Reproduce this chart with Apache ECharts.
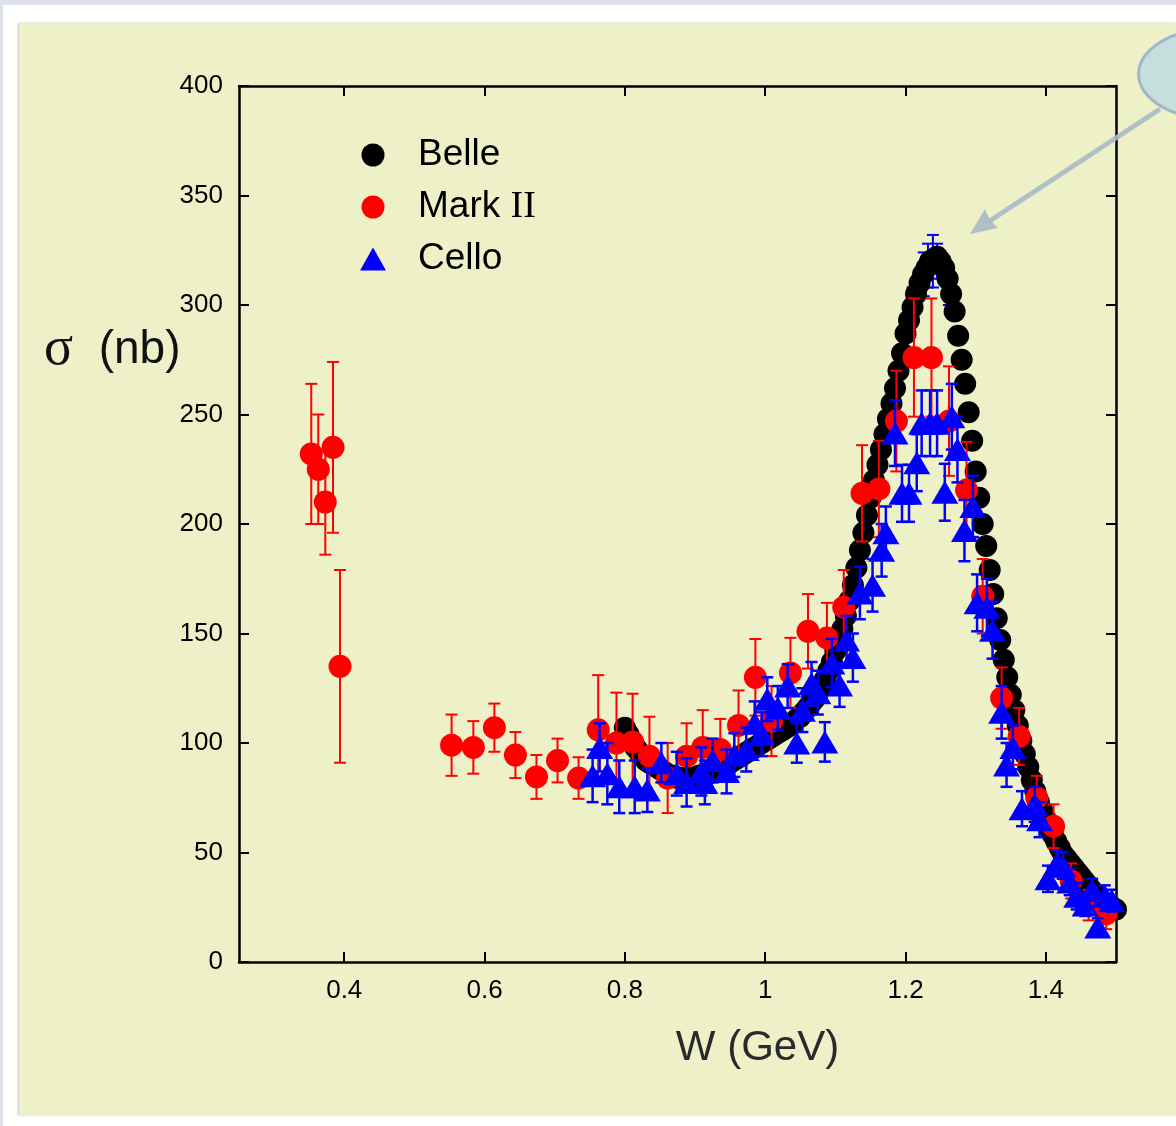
<!DOCTYPE html>
<html>
<head>
<meta charset="utf-8">
<script src="https://cdn.jsdelivr.net/npm/echarts@6/dist/echarts.min.js"></script>
<style>
  html, body { margin: 0; padding: 0; width: 1176px; height: 1126px; overflow: hidden; background: #ffffff; }
  #topstrip { position: absolute; left: 0; top: 0; width: 1176px; height: 5px; background: #dde2ea; }
  #leftstrip { position: absolute; left: 0; top: 0; width: 3px; height: 1126px; background: #dde2ea; }
  #panel { position: absolute; left: 19px; top: 23px; width: 1157px; height: 1092px; background: #eef1c8;
           box-shadow: -1px 0 2px rgba(120,120,100,0.45); }
  #bubble { position: absolute; left: 1137px; top: 27px; width: 150px; height: 88px; border: 3px solid #9fb6cd;
            border-radius: 50%; background: #c6dfdc; }
  #chart { position: absolute; left: 0; top: 0; width: 1176px; height: 1126px; }
</style>
</head>
<body>
<div id="topstrip"></div>
<div id="leftstrip"></div>
<div id="panel"></div>
<div id="bubble"></div>
<div id="chart"></div>
<script>
// ---------------- data ----------------
// Belle: W (GeV) and sigma (nb), 5 MeV bins
const belleW = [
  0.800,0.805,0.810,0.815,0.820,0.825,0.830,0.835,0.840,0.845,
  0.850,0.855,0.860,0.865,0.870,0.875,0.880,0.885,0.890,0.895,
  0.900,0.905,0.910,0.915,0.920,0.925,0.930,0.935,0.940,0.945,
  0.950,0.955,0.960,0.965,0.970,0.975,0.980,0.985,0.990,0.995,
  1.000,1.005,1.010,1.015,1.020,1.025,1.030,1.035,1.040,1.045,
  1.050,1.055,1.060,1.065,1.070,1.075,1.080,1.085,1.090,1.095,
  1.100,1.105,1.110,1.115,1.120,1.125,1.130,1.135,1.140,1.145,
  1.150,1.155,1.160,1.165,1.170,1.175,1.180,1.185,1.190,1.195,
  1.200,1.205,1.210,1.215,1.220,1.225,1.230,1.235,1.240,1.245,
  1.250,1.255,1.260,1.265,1.270,1.275,1.280,1.285,1.290,1.295,
  1.300,1.305,1.310,1.315,1.320,1.325,1.330,1.335,1.340,1.345,
  1.350,1.355,1.360,1.365,1.370,1.375,1.380,1.385,1.390,1.395,
  1.400,1.405,1.410,1.415,1.420,1.425,1.430,1.435,1.440,1.445,
  1.450,1.455,1.460,1.465,1.470,1.475,1.480,1.485,1.490,1.495,
  1.500
];
const belleSigma = [
  107,104,101,98,96,94,92,91,90,89,
  88,87,86,85,85,84,84,84,84,84,
  84,85,85,86,86,87,88,88,89,90,
  91,92,93,94,95,96,97,98,99,100,
  101,102,103,104,105,106,107,108,109,111,
  112,114,116,118,120,123,126,129,133,137,
  142,147,152,158,165,172,180,188,196,204,
  212,220,227,234,241,248,255,262,270,278,
  287,293,299,305,310,314,317,320,321,322,
  320,317,312,305,297,286,275,264,251,238,
  224,212,200,190,179,168,157,147,138,130,
  122,115,108,101,95,89,83,78,73,69,
  65,61,58,55,52,49,47,45,43,41,
  39,37,35,33,31,30,28,27,26,25,
  24
];

// Mark II: W, sigma, symmetric error
const markW = [0.353,0.363,0.373,0.384,0.394,
  0.553,0.584,0.614,0.644,0.674,0.704,0.734,0.762,0.788,0.811,0.835,0.861,0.888,0.911,0.936,
  0.962,0.986,1.009,1.036,1.061,1.088,1.112,1.138,1.162,1.187,1.212,1.237,1.262,1.287,
  1.310,1.337,1.362,1.387,1.411,1.436,1.461,1.486];
const markSigma = [232,225,210,235,135,
  99,98,107,94.5,84.5,92,84,106,100,100.5,94,84,94,98,97,
  108,130,110,132,151,148,162,214,216,247,276,276,247,215.5,
  167,120.5,103,75,62,37,26,22];
const markErr = [32,25,24,39,44,
  14,12,11,10.5,10,10,9.5,25,23,22,18,16,15,17,14,
  16,17.5,16,16,17,16,17,22,22,23,27,27,25,22,
  17,14,13,10,10,8,7,7];

// Cello: W, sigma, symmetric error
const celloW = [0.754,0.764,0.775,0.792,0.814,0.832,0.852,0.874,0.888,0.909,
  0.914,0.925,0.945,0.956,0.973,0.985,0.995,1.003,1.018,1.032,
  1.045,1.053,1.066,1.075,1.085,1.095,1.106,1.116,1.125,1.135,
  1.153,1.166,1.172,1.185,1.195,1.205,1.216,1.223,1.235,1.245,
  1.256,1.266,1.274,1.284,1.296,1.302,1.316,1.324,1.337,1.344,
  1.353,1.366,1.384,1.391,1.403,1.416,1.424,1.434,1.444,1.456,
  1.466,1.474,1.484,1.494];
const celloSigma = [85,98,86,80,80,78.5,91,86,82,87,
  82,92,87,94.5,97,109,104,120,116,126,
  100,115,127,123,100.5,136.5,126.5,147,139,168.5,
  172,188,196,241.5,214,214,228,246,246,246,
  214.5,249,234,197,208,164,162,151.5,114,90,
  98,70,72,65,38,45,44,36.5,30,26,
  33,16,30,28];
const celloErr = [12,11,14,12,12,10,9,10,11,11,
  10,10,10,10,10,10,10,10,10,10,
  9,10,10,10,9,11,10,11,11,12,
  12,12,12,15,13,13,13,15,15,15,
  13,15,15,14,14,13,13,13,12,10,
  10,8,8,8,6,6,6,6,6,5,
  5,4,5,5];
// Cello points near the peak hidden under the Belle markers (only caps visible)
const celloHidW = [1.210,1.226,1.232,1.239,1.245,1.262];
const celloHidSigma = [300,314,318,320,320,308];
const celloHidErr = [8,10,10,12,8,8];

// axis ticks
const xTicks = [0.4,0.6,0.8,1.0,1.2,1.4];
const yTicks = [0,50,100,150,200,250,300,350,400];

// ---------------- build ----------------
const pairs = (xs, ys) => xs.map((x, i) => [x, ys[i]]);
const errData = (xs, ys, es) => xs.map((x, i) => [x, ys[i] - es[i], ys[i] + es[i]]);

function errRender(capHalf, color, lw) {
  return function (params, api) {
    const x = api.value(0), lo = api.value(1), hi = api.value(2);
    const p1 = api.coord([x, lo]);
    const p2 = api.coord([x, hi]);
    const st = { stroke: color, lineWidth: lw };
    return {
      type: 'group',
      children: [
        { type: 'line', shape: { x1: p1[0], y1: p1[1], x2: p2[0], y2: p2[1] }, style: st },
        { type: 'line', shape: { x1: p1[0] - capHalf, y1: p1[1], x2: p1[0] + capHalf, y2: p1[1] }, style: st },
        { type: 'line', shape: { x1: p2[0] - capHalf, y1: p2[1], x2: p2[0] + capHalf, y2: p2[1] }, style: st }
      ]
    };
  };
}

const FONT = 'Liberation Sans, Arial, Helvetica, sans-serif';
const axisLineStyle = { color: '#000', width: 2.5 };

const chart = echarts.init(document.getElementById('chart'), null, { renderer: 'canvas' });
chart.setOption({
  backgroundColor: 'transparent',
  animation: false,
  grid: { left: 239, top: 86, width: 877, height: 876, containLabel: false },
  xAxis: [
    {
      type: 'value', min: 0.25, max: 1.5, position: 'bottom',
      name: 'W (GeV)', nameLocation: 'middle', nameGap: 65,
      nameTextStyle: { fontSize: 42, fontFamily: FONT, color: '#2a2a2a', padding: [0, 0, 0, 160] },
      axisLine: { show: true, onZero: false, lineStyle: axisLineStyle },
      axisTick: { show: true, inside: true, length: 10, lineStyle: { color: '#000', width: 2 }, customValues: xTicks },
      axisLabel: { show: true, customValues: xTicks, fontSize: 26, fontFamily: FONT, color: '#000', margin: 16 },
      splitLine: { show: false }
    },
    {
      type: 'value', min: 0.25, max: 1.5, position: 'top',
      axisLine: { show: true, onZero: false, lineStyle: axisLineStyle },
      axisTick: { show: true, inside: true, length: 10, lineStyle: { color: '#000', width: 2 }, customValues: xTicks },
      axisLabel: { show: false },
      splitLine: { show: false }
    }
  ],
  yAxis: [
    {
      type: 'value', min: 0, max: 400, interval: 50, position: 'left',
      axisLine: { show: true, onZero: false, lineStyle: axisLineStyle },
      axisTick: { show: true, inside: true, length: 10, lineStyle: { color: '#000', width: 2 }, customValues: yTicks },
      axisLabel: { show: true, fontSize: 26, fontFamily: FONT, color: '#000', margin: 16 },
      splitLine: { show: false }
    },
    {
      type: 'value', min: 0, max: 400, interval: 50, position: 'right',
      axisLine: { show: true, onZero: false, lineStyle: axisLineStyle },
      axisTick: { show: true, inside: true, length: 10, lineStyle: { color: '#000', width: 2 } },
      axisLabel: { show: false },
      splitLine: { show: false }
    }
  ],
  legend: {
    orient: 'vertical', left: 355, top: 130,
    itemWidth: 26, itemHeight: 23, itemGap: 12,
    data: [
      { name: 'Belle', icon: 'circle', itemStyle: { color: '#000000', opacity: 1 } },
      { name: 'Mark II', icon: 'circle', itemStyle: { color: '#ff0000', opacity: 1 } },
      { name: 'Cello', icon: 'triangle', itemStyle: { color: '#0000ff', opacity: 1 } }
    ],
    formatter: function (name) { return name === 'Mark II' ? '{a|Mark }{b|II}' : name; },
    textStyle: {
      fontSize: 37, fontFamily: FONT, color: '#000', lineHeight: 40, padding: [0, 0, 0, 27],
      rich: {
        a: { fontSize: 37, fontFamily: FONT, color: '#000', lineHeight: 40 },
        b: { fontSize: 38, fontFamily: 'Liberation Serif, Times New Roman, serif', color: '#000', lineHeight: 40 }
      }
    }
  },
  series: [
    {
      name: 'Cello hidden err', type: 'custom', z: 1, clip: true,
      renderItem: errRender(6, '#0000ff', 2),
      encode: { x: 0, y: [1, 2] },
      data: errData(celloHidW, celloHidSigma, celloHidErr)
    },
    {
      name: 'Belle', type: 'scatter', z: 2, clip: false,
      symbol: 'circle', symbolSize: 22,
      itemStyle: { color: '#000000', opacity: 1 },
      emphasis: { disabled: true },
      data: pairs(belleW, belleSigma)
    },
    {
      name: 'Mark II err', type: 'custom', z: 3, clip: true,
      renderItem: errRender(6, '#ff0000', 2),
      encode: { x: 0, y: [1, 2] },
      data: errData(markW, markSigma, markErr)
    },
    {
      name: 'Mark II', type: 'scatter', z: 4, clip: false,
      symbol: 'circle', symbolSize: 23,
      itemStyle: { color: '#ff0000', opacity: 1 },
      emphasis: { disabled: true },
      data: pairs(markW, markSigma)
    },
    {
      name: 'Cello err', type: 'custom', z: 5, clip: true,
      renderItem: errRender(6, '#0000ff', 2.5),
      encode: { x: 0, y: [1, 2] },
      data: errData(celloW, celloSigma, celloErr)
    },
    {
      name: 'Cello', type: 'scatter', z: 6, clip: false,
      symbol: 'triangle', symbolSize: [27, 23],
      itemStyle: { color: '#0000ff', opacity: 1 },
      emphasis: { disabled: true },
      data: pairs(celloW, celloSigma)
    }
  ],
  graphic: [
    {
      type: 'text', left: 44, top: 323, z: 50,
      style: {
        text: '{s|σ}  (nb)', fill: '#111', font: '46px Liberation Sans, Arial, sans-serif',
        rich: { s: { fontSize: 54, fontFamily: 'Liberation Serif, DejaVu Serif, serif', fill: '#111' } }
      }
    },
    {
      type: 'line', z: 100,
      shape: { x1: 1160, y1: 109, x2: 988, y2: 222 },
      style: { stroke: '#a6b9c9', lineWidth: 5, opacity: 0.9 }
    },
    {
      type: 'polygon', z: 100,
      shape: { points: [[970, 234], [985, 209], [990, 220], [998, 228]] },
      style: { fill: '#a6b9c9', opacity: 0.9 }
    }
  ]
});
</script>
</body>
</html>
